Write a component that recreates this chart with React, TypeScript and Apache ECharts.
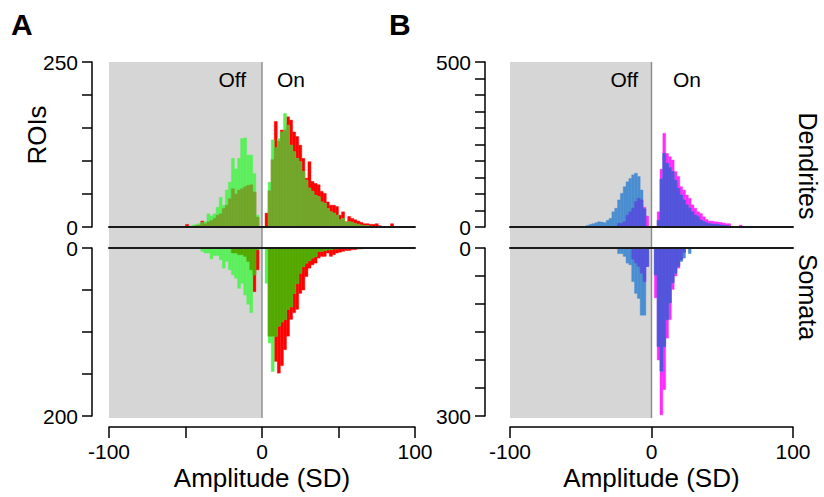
import React, { useEffect, useRef } from "react";
import * as echarts from "echarts";

// ---------- data ----------
const BIN_WIDTH = 2;
const BIN_STARTS = [
  -50, -48, -46, -44, -42, -40, -38, -36, -34, -32,
  -30, -28, -26, -24, -22, -20, -18, -16, -14, -12,
  -10, -8, -6, -4, -2, 0, 2, 4, 6, 8,
  10, 12, 14, 16, 18, 20, 22, 24, 26, 28,
  30, 32, 34, 36, 38, 40, 42, 44, 46, 48,
  50, 52, 54, 56, 58, 60, 62, 64, 66, 68,
  70, 72, 74, 76, 78, 80, 82, 84, 86, 88,
];
const OFF_RANGE = [-100, 0];

// Panel A — dendrites (upwards)
const A_DEND_GREEN = [
  0, 0, 3, 4, 5, 7, 8, 20, 17, 20,
  30, 45, 33, 56, 68, 104, 88, 104, 134, 135,
  109, 109, 81, 18, 0, 0, 0, 68, 132, 120,
  134, 144, 172, 154, 124, 114, 104, 99, 84, 71,
  59, 54, 48, 46, 38, 36, 28, 23, 21, 18,
  11, 13, 7, 8, 7, 5, 4, 3, 2, 2,
  1, 0, 0, 0, 0, 0, 0, 0, 0, 0,
];
const A_DEND_RED = [
  4, 0, 0, 2, 3, 9, 5, 8, 10, 13,
  18, 20, 28, 33, 43, 58, 50, 56, 58, 61,
  63, 64, 53, 15, 0, 0, 21, 55, 102, 160,
  130, 147, 147, 167, 162, 144, 137, 124, 104, 74,
  99, 69, 66, 64, 54, 51, 38, 33, 33, 31,
  18, 23, 8, 16, 13, 11, 9, 7, 5, 5,
  4, 4, 5, 2, 0, 0, 0, 5, 0, 0,
];
// Panel A — somata (downwards)
const A_SOMA_GREEN = [
  0, 0, 0, 0, 0, 4, 6, 6, 13, 9,
  9, 14, 24, 16, 26, 32, 36, 48, 42, 56,
  67, 77, 32, 2, 0, 0, 42, 113, 147, 105,
  93, 88, 85, 73, 70, 54, 42, 30, 22, 18,
  15, 12, 10, 4, 4, 3, 2, 2, 1, 1,
  0, 0, 0, 0, 0, 0, 0, 0, 0, 0,
  0, 0, 0, 0, 0, 0, 0, 0, 0, 0,
];
const A_SOMA_RED = [
  0, 0, 0, 0, 0, 0, 0, 0, 0, 0,
  0, 0, 0, 0, 0, 6, 6, 8, 8, 10,
  16, 26, 52, 26, 0, 0, 0, 105, 105, 135,
  149, 140, 121, 105, 85, 77, 73, 54, 50, 34,
  24, 20, 18, 12, 10, 10, 6, 10, 8, 6,
  5, 4, 3, 3, 2, 2, 1, 1, 0, 0,
  0, 0, 0, 0, 0, 0, 0, 0, 0, 0,
];
// Panel B — dendrites
const B_DEND_BLUE = [
  0, 0, 5, 8, 10, 13, 16, 15, 13, 20,
  26, 46, 57, 82, 102, 122, 137, 147, 158, 163,
  153, 112, 55, 0, 0, 0, 0, 20, 145, 223,
  193, 180, 168, 142, 117, 97, 82, 67, 57, 46,
  36, 31, 21, 16, 13, 10, 9, 8, 8, 6,
  5, 4, 3, 0, 0, 0, 0, 0, 0, 0,
  0, 0, 0, 0, 0, 0, 0, 0, 0, 0,
];
const B_DEND_MAGENTA = [
  0, 0, 0, 0, 0, 0, 0, 0, 0, 0,
  0, 0, 0, 11, 11, 16, 36, 46, 57, 77,
  87, 82, 60, 33, 0, 0, 0, 46, 175, 284,
  223, 213, 203, 168, 153, 122, 112, 97, 87, 67,
  57, 46, 41, 31, 23, 18, 18, 16, 15, 14,
  12, 10, 10, 0, 0, 0, 6, 0, 0, 0,
  0, 0, 0, 0, 0, 0, 0, 0, 0, 0,
];
// Panel B — somata
const B_SOMA_BLUE = [
  0, 0, 0, 0, 0, 0, 0, 0, 0, 0,
  0, 0, 0, 10, 10, 15, 27, 30, 60, 81,
  90, 120, 120, 33, 0, 0, 48, 176, 220, 176,
  128, 98, 62, 45, 33, 24, 18, 0, 10, 0,
  0, 0, 0, 0, 0, 0, 0, 0, 0, 0,
  0, 0, 0, 0, 0, 0, 0, 0, 0, 0,
  0, 0, 0, 0, 0, 0, 0, 0, 0, 0,
];
const B_SOMA_MAGENTA = [
  0, 0, 0, 0, 0, 0, 0, 0, 0, 0,
  0, 0, 0, 0, 0, 0, 0, 0, 20, 27,
  33, 45, 60, 33, 0, 0, 89, 200, 298, 253,
  161, 128, 74, 50, 36, 21, 8, 0, 0, 0,
  0, 0, 0, 0, 0, 0, 0, 0, 0, 0,
  0, 0, 0, 0, 0, 0, 0, 0, 0, 0,
  0, 0, 0, 0, 0, 0, 0, 0, 0, 0,
];

const A_DEND_MAX = 250;
const A_SOMA_MAX = 200;
const B_DEND_MAX = 500;
const B_SOMA_MAX = 300;
const X_MIN = -100;
const X_MAX = 100;

// ---------- styles ----------
const FONT = "'Liberation Sans', Arial, Helvetica, sans-serif";
const GREEN = "#5cef5c";
const RED = "#ff0000";
const OLIVE_TOP = "#74a52b";
const OLIVE_BOTTOM = "#55a800";
const BLUE = "#4a8ed2";
const MAGENTA = "#ff2bff";
const PURPLE = "#5454dc";
const GRAY_BG = "#d6d6d6";

function barsSeries(xAxisIndex: number, yAxisIndex: number, values: number[], color: string, z: number) {
  return {
    type: "custom",
    xAxisIndex,
    yAxisIndex,
    z,
    silent: true,
    clip: true,
    encode: { x: 0, y: 1 },
    data: BIN_STARTS.map((s, i) => [s, values[i]]).filter((d) => d[1] > 0),
    renderItem: (params: any, api: any) => {
      const x0 = api.value(0);
      const v = api.value(1);
      const a = api.coord([x0, v]);
      const b = api.coord([x0 + BIN_WIDTH, 0]);
      return {
        type: "rect",
        shape: {
          x: Math.min(a[0], b[0]),
          y: Math.min(a[1], b[1]),
          width: Math.abs(b[0] - a[0]),
          height: Math.abs(b[1] - a[1]),
        },
        style: { fill: color, stroke: color, lineWidth: 0.4 },
      };
    },
  };
}

function overlayTriple(xi: number, yi: number, back: number[], front: number[], backColor: string, frontColor: string, overlapColor: string) {
  const overlap = back.map((v, i) => Math.min(v, front[i]));
  return [
    barsSeries(xi, yi, back, backColor, 2),
    barsSeries(xi, yi, front, frontColor, 3),
    barsSeries(xi, yi, overlap, overlapColor, 4),
  ];
}

function backgroundSeries(xi: number, yi: number) {
  return {
    type: "custom",
    xAxisIndex: xi,
    yAxisIndex: yi,
    z: 1,
    silent: true,
    data: [OFF_RANGE],
    renderItem: (params: any, api: any) => {
      const s = api.value(0);
      const e = api.value(1);
      const tl = api.coord([s, 1]);
      const br = api.coord([e, 0]);
      return {
        type: "group",
        children: [
          {
            type: "rect",
            shape: { x: tl[0], y: tl[1], width: br[0] - tl[0], height: br[1] - tl[1] },
            style: { fill: GRAY_BG },
          },
          {
            type: "line",
            shape: { x1: br[0], y1: tl[1], x2: br[0], y2: br[1] },
            style: { stroke: "#8a8a8a", lineWidth: 1.4 },
          },
        ],
      };
    },
  };
}

const baseLine = { show: true, onZero: false, lineStyle: { color: "#1a1a1a", width: 2 } };

function hiddenX(gridIndex: number, position: string) {
  return {
    gridIndex,
    type: "value",
    min: X_MIN,
    max: X_MAX,
    position,
    z: 6,
    axisLine: baseLine,
    axisTick: { show: false },
    axisLabel: { show: false },
    splitLine: { show: false },
  };
}

function shownX(gridIndex: number, interval: number) {
  return {
    gridIndex,
    type: "value",
    min: X_MIN,
    max: X_MAX,
    interval,
    position: "bottom",
    offset: 11,
    z: 6,
    axisLine: { show: true, onZero: false, lineStyle: { color: "#000", width: 1.5 } },
    axisTick: { show: true, length: 11, lineStyle: { color: "#000", width: 1.5 } },
    axisLabel: {
      show: true,
      fontSize: 21,
      fontFamily: FONT,
      color: "#000",
      margin: 14,
      formatter: (v: number) => (v % 100 === 0 ? String(v) : ""),
    },
    splitLine: { show: false },
    name: "Amplitude (SD)",
    nameLocation: "middle",
    nameGap: 38,
    nameTextStyle: { fontSize: 26, fontFamily: FONT, color: "#000" },
  };
}

function yAx(gridIndex: number, max: number, inverse: boolean, offset: number) {
  return {
    gridIndex,
    type: "value",
    min: 0,
    max,
    interval: 50,
    inverse,
    offset,
    position: "left",
    z: 6,
    axisLine: { show: true, onZero: false, lineStyle: { color: "#000", width: 1.5 } },
    axisTick: { show: true, length: 10, lineStyle: { color: "#000", width: 1.5 } },
    axisLabel: {
      show: true,
      fontSize: 21,
      fontFamily: FONT,
      color: "#000",
      margin: 14,
      formatter: (v: number) => (v === 0 || v === max ? String(v) : ""),
    },
    splitLine: { show: false },
  };
}

function hiddenAxis(gridIndex: number, min: number, max: number) {
  return {
    gridIndex,
    type: "value",
    min,
    max,
    show: false,
    splitLine: { show: false },
  };
}

function txt(text: string, x: number, y: number, size: number, opts: any = {}) {
  return {
    type: "text",
    x,
    y,
    rotation: opts.rotation || 0,
    z: 10,
    silent: true,
    style: {
      text,
      font: `${opts.bold ? "bold " : ""}${size}px ${FONT}`,
      fill: "#000",
      textAlign: opts.align || "center",
      align: opts.align || "center",
      textVerticalAlign: "middle",
      verticalAlign: "middle",
    },
  };
}

export default function App() {
  const ref = useRef<HTMLDivElement>(null);

  useEffect(() => {
    if (!ref.current) return;
    const chart = echarts.init(ref.current, undefined, { renderer: "svg" });

    const grids = [
      { left: 109, top: 62, width: 306, height: 165 }, // A top
      { left: 109, top: 248, width: 306, height: 168 }, // A bottom
      { left: 510, top: 62, width: 283, height: 165 }, // B top
      { left: 510, top: 248, width: 283, height: 168 }, // B bottom
      { left: 109, top: 62, width: 306, height: 356 }, // A background
      { left: 510, top: 62, width: 283, height: 356 }, // B background
    ];

    const option: any = {
      animation: false,
      textStyle: { fontFamily: FONT },
      grid: grids.map((g) => ({ ...g, containLabel: false })),
      xAxis: [
        hiddenX(0, "bottom"), // 0
        hiddenX(1, "top"), // 1
        shownX(1, 50), // 2
        hiddenX(2, "bottom"), // 3
        hiddenX(3, "top"), // 4
        shownX(3, 100), // 5
        hiddenAxis(4, X_MIN, X_MAX), // 6
        hiddenAxis(5, X_MIN, X_MAX), // 7
      ],
      yAxis: [
        yAx(0, A_DEND_MAX, false, 17),
        yAx(1, A_SOMA_MAX, true, 17),
        yAx(2, B_DEND_MAX, false, 25),
        yAx(3, B_SOMA_MAX, true, 25),
        hiddenAxis(4, 0, 1),
        hiddenAxis(5, 0, 1),
      ],
      series: [
        backgroundSeries(6, 4),
        backgroundSeries(7, 5),
        ...overlayTriple(0, 0, A_DEND_RED, A_DEND_GREEN, RED, GREEN, OLIVE_TOP),
        ...overlayTriple(1, 1, A_SOMA_RED, A_SOMA_GREEN, RED, GREEN, OLIVE_BOTTOM),
        ...overlayTriple(3, 2, B_DEND_MAGENTA, B_DEND_BLUE, MAGENTA, BLUE, PURPLE),
        ...overlayTriple(4, 3, B_SOMA_MAGENTA, B_SOMA_BLUE, MAGENTA, BLUE, PURPLE),
      ],
      graphic: [
        txt("A", 11, 24, 30, { bold: true, align: "left" }),
        txt("B", 389, 24, 30, { bold: true, align: "left" }),
        txt("ROIs", 37, 135, 26, { rotation: Math.PI / 2 }),
        txt("Dendrites", 808, 166, 25, { rotation: -Math.PI / 2 }),
        txt("Somata", 808, 297, 25, { rotation: -Math.PI / 2 }),
        txt("Off", 246, 79, 21, { align: "right" }),
        txt("On", 277, 79, 21, { align: "left" }),
        txt("Off", 638, 79, 21, { align: "right" }),
        txt("On", 673, 79, 21, { align: "left" }),
      ],
    };

    chart.setOption(option);
    return () => chart.dispose();
  }, []);

  return (
    <div
      ref={ref}
      style={{ position: "fixed", left: 0, top: 0, width: 824, height: 497, background: "#fff" }}
    />
  );
}
